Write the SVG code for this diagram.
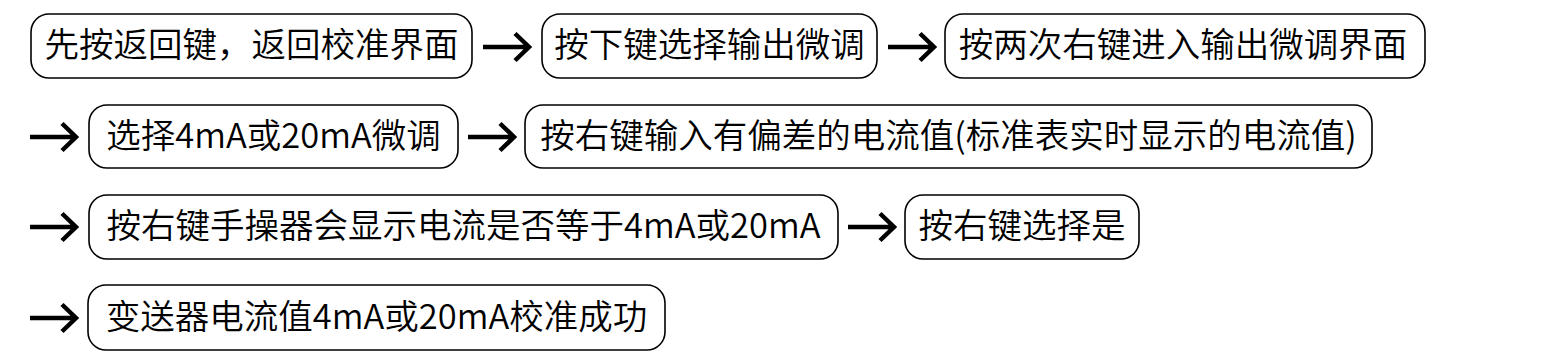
<svg xmlns="http://www.w3.org/2000/svg" width="1551" height="361" viewBox="0 0 1551 361">
<defs>
<style>
.box{fill:#fff;stroke:#000;stroke-width:1.6}
.t{font-family:"Noto Sans CJK SC","Noto Sans",sans-serif;font-size:34.5px;font-weight:350;fill:#000;text-anchor:middle}
.arr{fill:none;stroke:#000;stroke-width:4.5;stroke-linecap:butt;stroke-linejoin:miter}
</style>
<path id="ar" d="M0 0 H45 M32 -13.5 L46 0 L32 13.5"/>
</defs>
<rect width="1551" height="361" fill="#fff"/>
<g id="connectors" class="arr">
<use href="#ar" x="483" y="47"/>
<use href="#ar" x="888" y="47"/>
<use href="#ar" x="30" y="137"/>
<use href="#ar" x="468" y="137"/>
<use href="#ar" x="30" y="227"/>
<use href="#ar" x="848" y="227"/>
<use href="#ar" x="30" y="318"/>
</g>
<g id="n1"><rect class="box" x="31" y="14" width="441" height="64" rx="18"/><text class="t" x="251.5" y="57">先按返回键，返回校准界面</text></g>
<g id="n2"><rect class="box" x="542" y="14" width="335" height="64" rx="18"/><text class="t" x="709.5" y="57">按下键选择输出微调</text></g>
<g id="n3"><rect class="box" x="945" y="14" width="480" height="64" rx="18"/><text class="t" x="1183" y="57">按两次右键进入输出微调界面</text></g>
<g id="n4"><rect class="box" x="89" y="105" width="369" height="63" rx="18"/><text class="t" x="273.5" y="148">选择4mA或20mA微调</text></g>
<g id="n5"><rect class="box" x="525" y="105" width="847" height="63" rx="18"/><text class="t" x="948.5" y="148">按右键输入有偏差的电流值(标准表实时显示的电流值)</text></g>
<g id="n6"><rect class="box" x="89" y="195" width="749" height="64" rx="18"/><text class="t" x="463.5" y="238">按右键手操器会显示电流是否等于4mA或20mA</text></g>
<g id="n7"><rect class="box" x="905" y="195" width="234" height="64" rx="18"/><text class="t" x="1022" y="238">按右键选择是</text></g>
<g id="n8"><rect class="box" x="88" y="285" width="577" height="65" rx="18"/><text class="t" x="376.5" y="329">变送器电流值4mA或20mA校准成功</text></g>
</svg>
